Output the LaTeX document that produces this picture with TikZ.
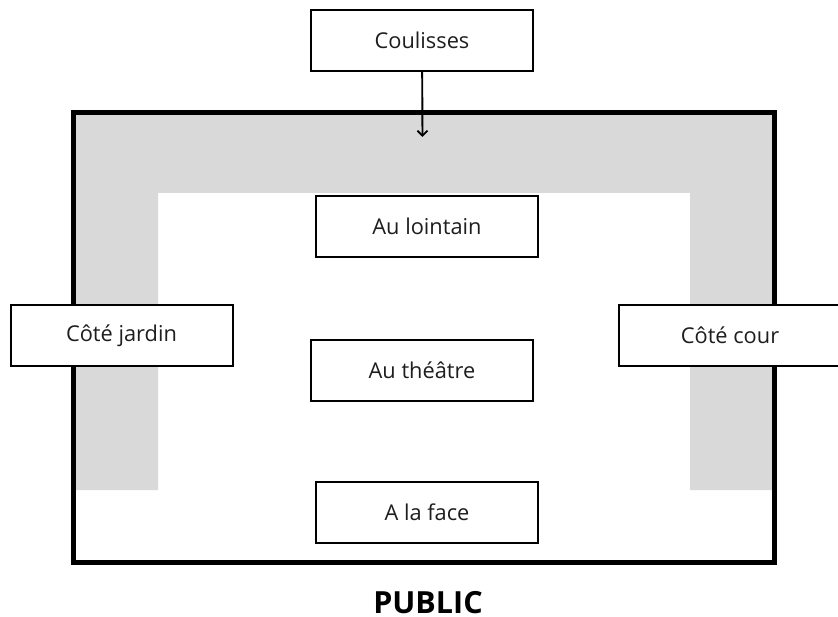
\documentclass[tikz,border=0pt]{standalone}
\usepackage{fontspec}
\setmainfont{Open Sans}
\usepackage{tikz}
\usetikzlibrary{arrows.meta, positioning}
\definecolor{wingcolor}{RGB}{217, 217, 217}
\definecolor{textcolor}{RGB}{30, 30, 30}

\begin{document}
\begin{tikzpicture}[
    x=1pt, y=-1pt,
    zone/.style={draw, line width=2pt, fill=white, minimum width=222pt, minimum height=61pt, inner sep=0pt, text=textcolor, font=\fontsize{21.8}{26}\selectfont},
    frame/.style={draw, line width=5pt},
    wings/.style={fill=wingcolor}
]
    \useasboundingbox (0,0) rectangle (838,617);

    % Coulisses (grey U)
    \fill[wings] (76,115) -- (772,115) -- (772,490) -- (690,490) -- (690,193)
        -- (158,193) -- (158,490) -- (76,490) -- cycle;

    % Stage
    \draw[frame] (73.5,112.5) rectangle (774,562.5);
    \coordinate (backstage) at (422.5,137);

    % Zones
    \node[zone] (coulisses) at (422,40.5) {Coulisses};
    \node[zone] (lointain) at (427,226.5) {Au lointain};
    \node[zone] (jardin) at (121.5,335.5) {Côté jardin};
    \node[zone] (cour) at (730,335.5) {Côté cour};
    \node[zone] (theatre) at (422,370.5) {Au théâtre};
    \node[zone] (face) at (427,512.5) {A la face};

    % Audience
    \node[font=\fontsize{30.5}{34}\selectfont\bfseries, inner sep=0pt] (public) at (428,603) {PUBLIC};

    % Connections
    \draw[-{Straight Barb[length=5pt, width=10pt]}, line width=1.9pt] (coulisses) -- (backstage);

\end{tikzpicture}
\end{document}
